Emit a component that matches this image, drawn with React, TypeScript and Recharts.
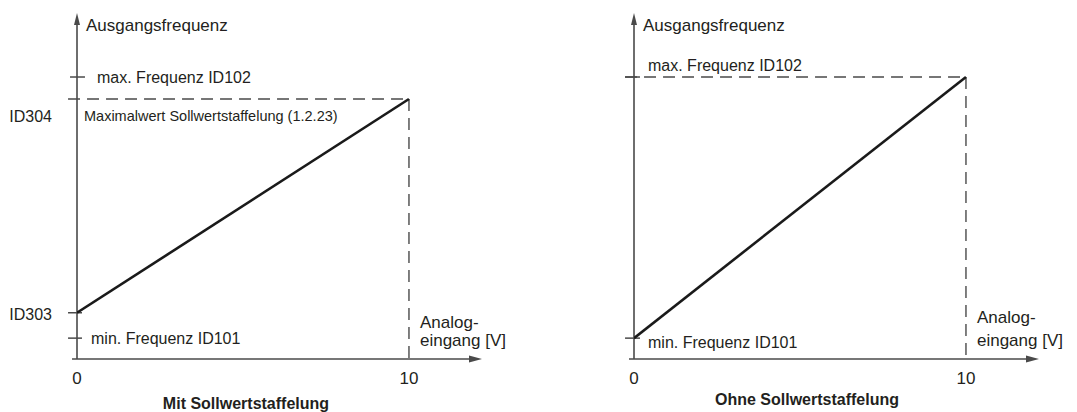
import React from 'react';
import { LineChart, Line, XAxis, YAxis, ReferenceLine, ReferenceDot } from 'recharts';

// ---- data (schematic values) ----
const xPoints = [0, 10];            // Analogeingang [V]
const xTicks = [0, 10];
const xAxisEnd = 12.2;              // arrow tip of the x axis
const yAxisEnd = 61.35;             // arrow tip of the y axis
const minFreq = 3.7;                // min. Frequenz ID101
const maxFreq = 50;                 // max. Frequenz ID102
const id303 = 8.2;                  // Minimalwert Sollwertstaffelung
const id304 = 46.1;                 // Maximalwert Sollwertstaffelung
const leftSeries = [id303, id304];
const rightSeries = [minFreq, maxFreq];
const leftYTickValues = [id303, id304];
const leftYTickLabels = ['ID303', 'ID304'];
const titles = ['Mit Sollwertstaffelung', 'Ohne Sollwertstaffelung'];
const yAxisTitle = 'Ausgangsfrequenz';
const xAxisTitle = ['Analog-', 'eingang [V]'];
const maxLabel = 'max. Frequenz ID102';
const minLabel = 'min. Frequenz ID101';
const scaleNote = 'Maximalwert Sollwertstaffelung (1.2.23)';

const FONT = "'Liberation Sans', Arial, sans-serif";
const TEXT = '#231f20';
const AXIS = '#4a4a4a';
const DASH = '12 7';
const MAIN_SIZE = 17;
const LABEL_SIZE = 16;
const TITLE_SIZE = 16;

const W = 540;
const H = 412;

const AxisArrow = (p: any) => {
  const { x1, y1, x2, y2 } = p;
  const horizontal = Math.abs(y1 - y2) < 0.5;
  if (horizontal) {
    const xs = Math.min(x1, x2);
    const xe = Math.max(x1, x2);
    return (
      <g>
        <line x1={xs} y1={y1} x2={xe - 8} y2={y1} stroke={AXIS} strokeWidth={1.6} />
        <polygon points={`${xe},${y1} ${xe - 13},${y1 - 3.5} ${xe - 13},${y1 + 3.5}`} fill={AXIS} />
      </g>
    );
  }
  const ys = Math.max(y1, y2);
  const ye = Math.min(y1, y2);
  return (
    <g>
      <line x1={x1} y1={ys} x2={x1} y2={ye + 8} stroke={AXIS} strokeWidth={1.6} />
      <polygon points={`${x1},${ye} ${x1 - 3},${ye + 12} ${x1 + 3},${ye + 12}`} fill={AXIS} />
    </g>
  );
};

const note = (
  key: string,
  x: number,
  y: number,
  dx: number,
  dy: number,
  text: string,
  size: number = MAIN_SIZE,
  anchor: string = 'start',
  weight: string | number = 'normal'
) => (
  <ReferenceDot
    key={key}
    x={x}
    y={y}
    r={0}
    ifOverflow="visible"
    isFront
    shape={(p: any) => (
      <text
        x={p.cx + dx}
        y={p.cy + dy}
        textAnchor={anchor as any}
        dominantBaseline="central"
        fontFamily={FONT}
        fontSize={size}
        fontWeight={weight}
        fill={TEXT}
      >
        {text}
      </text>
    )}
  />
);

const tickSeg = (key: string, y: number, from: number, to: number) => (
  <ReferenceLine
    key={key}
    segment={[{ x: from, y }, { x: to, y }]}
    stroke={AXIS}
    strokeWidth={1.5}
    ifOverflow="visible"
  />
);

const XTick = (p: any) => (
  <text
    x={p.x}
    y={p.y + 19}
    textAnchor="middle"
    dominantBaseline="central"
    fontFamily={FONT}
    fontSize={MAIN_SIZE}
    fill={TEXT}
  >
    {p.payload.value}
  </text>
);

const LeftYTick = (p: any) => {
  const i = leftYTickValues.indexOf(p.payload.value);
  const label = leftYTickLabels[i];
  const dy = label === 'ID304' ? 17 : 2;
  return (
    <text
      x={p.x - 25}
      y={p.y + dy}
      textAnchor="end"
      dominantBaseline="central"
      fontFamily={FONT}
      fontSize={LABEL_SIZE}
      fill={TEXT}
    >
      {label}
    </text>
  );
};

function LeftPanel() {
  const data = xPoints.map((x, i) => ({ x, y: leftSeries[i] }));
  return (
    <LineChart width={W} height={H} data={data} margin={{ top: 13, right: 58, bottom: 23, left: 17 }}>
      <XAxis
        type="number"
        dataKey="x"
        domain={[0, xAxisEnd]}
        ticks={xTicks}
        axisLine={false}
        tickLine={false}
        tickSize={0}
        tickMargin={0}
        height={30}
        tick={XTick}
        allowDataOverflow
      />
      <YAxis
        type="number"
        domain={[0, yAxisEnd]}
        ticks={leftYTickValues}
        axisLine={false}
        tickLine={false}
        tickSize={0}
        tickMargin={0}
        width={60}
        tick={LeftYTick}
        allowDataOverflow
      />
      <ReferenceLine segment={[{ x: -0.27, y: id304 }, { x: 10, y: id304 }]} stroke={AXIS} strokeWidth={1.4} strokeDasharray={DASH} ifOverflow="visible" />
      <ReferenceLine segment={[{ x: 10, y: id304 }, { x: 10, y: 0 }]} stroke={AXIS} strokeWidth={1.4} strokeDasharray={DASH} ifOverflow="visible" />
      {tickSeg('tmax', maxFreq, -0.21, 0.24)}
      {tickSeg('t303', id303, -0.27, 0.15)}
      {tickSeg('tmin', minFreq, -0.27, 0.15)}
      <ReferenceLine segment={[{ x: -0.15, y: 0 }, { x: xAxisEnd, y: 0 }]} ifOverflow="visible" shape={AxisArrow} />
      <ReferenceLine segment={[{ x: 0, y: 0 }, { x: 0, y: yAxisEnd }]} ifOverflow="visible" shape={AxisArrow} />
      <Line type="linear" dataKey="y" stroke="#1a1a1a" strokeWidth={2.6} dot={false} isAnimationActive={false} />
      {note('ytitle', 0, yAxisEnd, 9, 12, yAxisTitle)}
      {note('max', 0, maxFreq, 20, 0, maxLabel, LABEL_SIZE)}
      {note('scale', 0, id304, 7, 17, scaleNote, 14.5)}
      {note('min', 0, minFreq, 14, 0, minLabel, LABEL_SIZE)}
      {note('xt1', 10, 0, 11, -37, xAxisTitle[0])}
      {note('xt2', 10, 0, 11, -19, xAxisTitle[1])}
      {note('title', 5, 0, 3, 44, titles[0], TITLE_SIZE, 'middle', 'bold')}
    </LineChart>
  );
}

function RightPanel() {
  const data = xPoints.map((x, i) => ({ x, y: rightSeries[i] }));
  const w = 520;
  return (
    <LineChart width={w} height={H} data={data} margin={{ top: 13, right: w - 482, bottom: 23, left: 17 }}>
      <XAxis
        type="number"
        dataKey="x"
        domain={[0, xAxisEnd]}
        ticks={xTicks}
        axisLine={false}
        tickLine={false}
        tickSize={0}
        tickMargin={0}
        height={30}
        tick={XTick}
        allowDataOverflow
      />
      <YAxis
        type="number"
        domain={[0, yAxisEnd]}
        ticks={[]}
        axisLine={false}
        tickLine={false}
        width={60}
        tick={false}
        allowDataOverflow
      />
      <ReferenceLine segment={[{ x: -0.27, y: maxFreq }, { x: 10, y: maxFreq }]} stroke={AXIS} strokeWidth={1.4} strokeDasharray={DASH} ifOverflow="visible" />
      <ReferenceLine segment={[{ x: 10, y: maxFreq }, { x: 10, y: 0 }]} stroke={AXIS} strokeWidth={1.4} strokeDasharray={DASH} ifOverflow="visible" />
      {tickSeg('tmax', maxFreq, -0.27, 0.18)}
      {tickSeg('tmin', minFreq, -0.27, 0.18)}
      <ReferenceLine segment={[{ x: -0.15, y: 0 }, { x: xAxisEnd, y: 0 }]} ifOverflow="visible" shape={AxisArrow} />
      <ReferenceLine segment={[{ x: 0, y: 0 }, { x: 0, y: yAxisEnd }]} ifOverflow="visible" shape={AxisArrow} />
      <Line type="linear" dataKey="y" stroke="#1a1a1a" strokeWidth={2.6} dot={false} isAnimationActive={false} />
      {note('ytitle', 0, yAxisEnd, 9, 12, yAxisTitle)}
      {note('max', 0, maxFreq, 14, -12, maxLabel, LABEL_SIZE)}
      {note('min', 0, minFreq, 14, 4, minLabel, LABEL_SIZE)}
      {note('xt1', 10, 0, 11, -42, xAxisTitle[0])}
      {note('xt2', 10, 0, 11, -19, xAxisTitle[1])}
      {note('title', 5, 0, 7, 40, titles[1], TITLE_SIZE, 'middle', 'bold')}
    </LineChart>
  );
}

export default function App() {
  return (
    <div
      style={{
        position: 'absolute',
        left: 0,
        top: 0,
        width: 1077,
        height: 412,
        overflow: 'hidden',
        background: '#ffffff',
      }}
    >
      <div style={{ position: 'absolute', left: 0, top: 0 }}>
        <LeftPanel />
      </div>
      <div style={{ position: 'absolute', left: 557, top: 0 }}>
        <RightPanel />
      </div>
    </div>
  );
}
